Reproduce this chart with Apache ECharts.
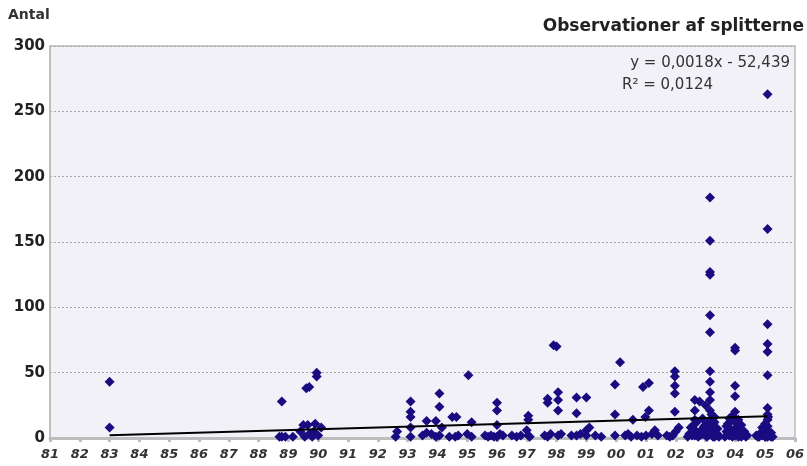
<!DOCTYPE html>
<html>
<head>
<meta charset="utf-8">
<script src="https://cdn.jsdelivr.net/npm/echarts@6/dist/echarts.min.js"></script>
<style>html,body{margin:0;padding:0;background:#fff;}#c{width:807px;height:466px;}</style>
</head>
<body>
<div id="c"></div>
<script>
// Observations: decimal year and count
const obsYears = [
  1983.0, 1983.0,
  1988.78, 1988.78, 1988.7, 1988.9, 1989.15,
  1989.6, 1989.7, 1989.95, 1989.95,
  1989.5, 1989.65, 1989.9, 1989.85, 1989.55, 1989.8, 1990.0, 1989.4, 1990.1, 1989.7,
  1992.6, 1992.65,
  1993.1, 1993.1, 1993.1, 1993.1, 1993.1,
  1993.64, 1993.64, 1993.95, 1993.95, 1993.5, 1993.8,
  1994.07, 1994.07, 1994.07, 1994.15,
  1994.5, 1994.64, 1994.6, 1994.4, 1994.7,
  1995.04, 1995.15, 1995.15, 1995.0, 1995.7, 1995.8, 1995.6, 1995.9,
  1996.0, 1996.0, 1996.0, 1996.0, 1996.1, 1996.2,
  1996.66, 1996.5, 1996.8,
  1997.05, 1997.05, 1997.05, 1997.0, 1997.1,
  1997.7, 1997.7, 1997.7, 1997.6, 1997.8,
  1997.9, 1998.0,
  1998.05, 1998.05, 1998.05, 1998.05, 1998.15,
  1998.67, 1998.67, 1998.67, 1998.5, 1998.8,
  1999.0, 1999.0, 1999.0, 1999.3, 1999.5, 1999.1,
  1999.96, 1999.96, 1999.96, 2000.13,
  2000.3, 2000.5, 2000.56, 2000.7, 2000.4,
  2000.9, 2001.1, 2001.1, 2000.98, 2001.2, 2001.0, 2001.4, 2001.3, 2000.85,
  2001.97, 2001.97, 2001.97, 2001.97, 2001.97, 2001.9, 2001.7, 2002.0, 2002.1, 2001.8,
  2002.64, 2002.64, 2002.64, 2002.64, 2002.64, 2002.5, 2002.8, 2002.8,
  2002.4, 2002.45, 2002.55, 2002.6, 2002.7, 2002.75, 2002.85, 2002.7, 2002.6, 2002.9, 2002.95,
  2003.15, 2003.15, 2003.15, 2003.15, 2003.15, 2003.15, 2003.15, 2003.15, 2003.15, 2003.15, 2003.15, 2003.15, 2003.15, 2003.15,
  2003.0, 2003.0, 2003.0, 2003.3, 2003.3, 2003.3, 2002.9, 2002.9,
  2003.05, 2003.1, 2003.2, 2003.25, 2003.35, 2003.4, 2003.45, 2003.2, 2003.1, 2003.05, 2003.3, 2003.4, 2003.0, 2003.25,
  2003.99, 2003.99, 2003.99, 2003.99, 2003.99, 2003.99, 2003.99, 2003.99,
  2003.8, 2003.8, 2003.8, 2004.2, 2004.2, 2004.2, 2004.4,
  2003.65, 2003.7, 2003.75, 2003.85, 2003.9, 2004.05, 2004.1, 2004.15, 2004.3, 2004.35, 2003.7, 2003.9, 2004.1, 2003.85, 2004.05,
  2005.08, 2005.08, 2005.08, 2005.08, 2005.08, 2005.08, 2005.08, 2005.08, 2005.08, 2005.08, 2005.08, 2005.08,
  2004.9, 2004.9, 2005.2, 2005.2, 2004.7,
  2004.8, 2004.85, 2004.95, 2005.0, 2005.05, 2005.15, 2005.25, 2005.1, 2005.0, 2005.12, 2004.75
];
const obsCounts = [
  43, 8,
  28, 1, 1, 1, 1,
  38, 39, 50, 47,
  10, 10, 11, 5, 1, 1, 2, 5, 8, 3,
  1, 5,
  28, 20, 16, 8, 1,
  13, 4, 13, 1, 2, 3,
  34, 24, 2, 8,
  16, 16, 1, 1, 2,
  48, 12, 1, 3, 1, 2, 2, 1,
  27, 21, 10, 1, 3, 2,
  1, 2, 2,
  17, 14, 2, 6, 1,
  30, 27, 1, 2, 3,
  71, 70,
  35, 29, 21, 2, 3,
  31, 19, 2, 2, 3,
  31, 6, 2, 2, 1, 8,
  41, 18, 2, 58,
  2, 1, 14, 2, 3,
  39, 42, 21, 16, 3, 2, 2, 6, 1,
  51, 47, 40, 34, 20, 2, 2, 5, 8, 1,
  29, 21, 14, 5, 2, 8, 28, 2,
  1, 3, 2, 10, 4, 1, 6, 12, 7, 3, 9,
  184, 151, 127, 125, 94, 81, 51, 43, 35, 29, 21, 14, 8, 3,
  25, 10, 2, 12, 5, 1, 15, 4,
  1, 6, 3, 9, 2, 7, 1, 18, 11, 4, 16, 3, 7, 1,
  69, 67, 40, 32, 20, 12, 5, 2,
  15, 8, 2, 10, 3, 1, 2,
  1, 5, 11, 4, 1, 7, 14, 2, 5, 1, 9, 17, 1, 3, 8,
  263, 160, 87, 72, 66, 48, 23, 18, 14, 9, 5, 1,
  8, 2, 4, 1, 2,
  1, 4, 3, 11, 6, 2, 1, 16, 1, 3, 1
];
// Axis tick labels (years 1981..2006)
const xTickLabels = ['81','82','83','84','85','86','87','88','89','90','91','92','93','94','95','96','97','98','99','00','01','02','03','04','05','06'];
// Linear trend (Excel date serial): y = 0.0018x - 52.439
const trendSlope = 0.0018, trendIntercept = -52.439;
const trendYears = [1983.0, 2005.08];
const eqText = 'y = 0,0018x - 52,439';
const r2Text = 'R² = 0,0124';

function yearToSerial(y){ return (y - 1900) * 365.25 + 1; }
const scatterData = obsYears.map((y,i)=>[y, obsCounts[i]]);
const trendData = trendYears.map(y=>[y, trendSlope*yearToSerial(y)+trendIntercept]);

const chart = echarts.init(document.getElementById('c'), null, {renderer:'canvas'});
chart.setOption({
  animation:false,
  backgroundColor:'#ffffff',
  grid:{left:50, right:12, top:46, bottom:28, show:true, backgroundColor:'#F2F1F8', borderColor:'#BBBBBB', borderWidth:1.5},
  xAxis:{
    type:'value', min:1981, max:2006, interval:1,
    axisLine:{show:true, onZero:false, lineStyle:{color:'#BDBDBD', width:3}},
    axisTick:{show:true, length:4, lineStyle:{color:'#BDBDBD', width:3}},
    splitLine:{show:false},
    axisLabel:{formatter:v=>xTickLabels[Math.round(v-1981)], fontFamily:'DejaVu Sans', fontStyle:'italic', fontWeight:'bold', fontSize:13, color:'#333', margin:10}
  },
  yAxis:{
    type:'value', min:0, max:300, interval:50,
    axisLine:{show:true, lineStyle:{color:'#BBBBBB', width:1.5}},
    axisTick:{show:false},
    splitLine:{show:true, lineStyle:{color:'#AAAAAA', type:[2,2], width:1}},
    axisLabel:{fontFamily:'DejaVu Sans', fontWeight:'bold', fontSize:15, color:'#222', margin:5}
  },
  graphic:[
    {type:'text', left:8, top:8, style:{text:'Antal', fontFamily:'DejaVu Sans', fontWeight:'bold', fontSize:14, fill:'#333'}},
    {type:'text', right:3, top:18, style:{text:'Observationer af splitterne', fontFamily:'DejaVu Sans', fontWeight:'bold', fontSize:17, fill:'#222'}},
    {type:'text', right:17, top:56, style:{text:eqText, fontFamily:'DejaVu Sans', fontSize:15, fill:'#333'}},
    {type:'text', left:622, top:78, style:{text:r2Text, fontFamily:'DejaVu Sans', fontSize:15, fill:'#333'}}
  ],
  series:[
    {type:'scatter', data:scatterData, symbol:'diamond', symbolSize:10, itemStyle:{color:'#1A0C80', opacity:1}, z:3},
    {type:'line', data:trendData, symbol:'none', lineStyle:{color:'#000', width:2}, z:4}
  ]
});
</script>
</body>
</html>
